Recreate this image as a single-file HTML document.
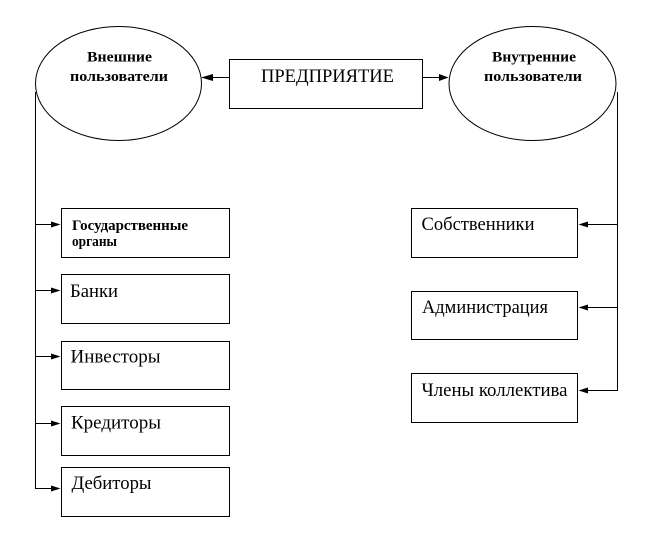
<!DOCTYPE html>
<html>
<head>
<meta charset="utf-8">
<style>
  html, body { margin: 0; padding: 0; background: #fff; }
  svg { display: block; }
  text { font-family: "Liberation Serif", "DejaVu Serif", serif; fill: #000; }
  .b { font-weight: bold; font-size: 15px; }
  .r { font-size: 19px; }
</style>
</head>
<body>
<svg width="653" height="560" viewBox="0 0 653 560" xmlns="http://www.w3.org/2000/svg">
  <rect x="0" y="0" width="653" height="560" fill="#fff"/>

  <!-- Ellipses -->
  <ellipse cx="118.5" cy="83.5" rx="83" ry="57" fill="none" stroke="#000" stroke-width="1"/>
  <ellipse cx="532.5" cy="83.5" rx="83.5" ry="57" fill="none" stroke="#000" stroke-width="1"/>

  <g shape-rendering="crispEdges" fill="none" stroke="#000" stroke-width="1">
    <!-- Central box -->
    <rect x="229.5" y="59.5" width="193" height="49"/>
    <!-- Left boxes -->
    <rect x="61.5" y="208.5" width="168" height="49"/>
    <rect x="61.5" y="274.5" width="168" height="49"/>
    <rect x="61.5" y="341.5" width="168" height="48"/>
    <rect x="61.5" y="406.5" width="168" height="49"/>
    <rect x="61.5" y="467.5" width="168" height="49"/>
    <!-- Right boxes -->
    <rect x="411.5" y="208.5" width="166" height="49"/>
    <rect x="411.5" y="291.5" width="166" height="48"/>
    <rect x="411.5" y="373.5" width="166" height="49"/>

    <!-- top connectors -->
    <line x1="212" y1="77.5" x2="229" y2="77.5"/>
    <line x1="423" y1="77.5" x2="440" y2="77.5"/>

    <!-- left trunk -->
    <line x1="35.5" y1="92" x2="35.5" y2="489"/>
    <line x1="35" y1="224.5" x2="52" y2="224.5"/>
    <line x1="35" y1="290.5" x2="52" y2="290.5"/>
    <line x1="35" y1="356.5" x2="52" y2="356.5"/>
    <line x1="35" y1="423.5" x2="52" y2="423.5"/>
    <line x1="35" y1="488.5" x2="52" y2="488.5"/>

    <!-- right trunk -->
    <line x1="617.5" y1="92" x2="617.5" y2="391"/>
    <line x1="587" y1="224.5" x2="618" y2="224.5"/>
    <line x1="587" y1="307.5" x2="618" y2="307.5"/>
    <line x1="587" y1="390.5" x2="618" y2="390.5"/>
  </g>

  <!-- Arrowheads -->
  <g fill="#000" stroke="none">
    <polygon points="201,77.5 213,74 213,81"/>
    <polygon points="448.5,77.5 439,74 439,81"/>

    <polygon points="60.5,224.5 51,221.5 51,227.5"/>
    <polygon points="60.5,290.5 51,287.5 51,293.5"/>
    <polygon points="60.5,356.5 51,353.5 51,359.5"/>
    <polygon points="60.5,423.5 51,420.5 51,426.5"/>
    <polygon points="60.5,488.5 51,485.5 51,491.5"/>

    <polygon points="578.5,224.5 588,221.5 588,227.5"/>
    <polygon points="578.5,307.5 588,304.5 588,310.5"/>
    <polygon points="578.5,390.5 588,387.5 588,393.5"/>
  </g>

  <!-- Texts -->
  <text class="b" x="87" y="61.5" textLength="65" lengthAdjust="spacingAndGlyphs">Внешние</text>
  <text class="b" x="70" y="81" textLength="98" lengthAdjust="spacingAndGlyphs">пользователи</text>

  <text class="b" x="492" y="61.5" textLength="84" lengthAdjust="spacingAndGlyphs">Внутренние</text>
  <text class="b" x="484" y="81" textLength="98" lengthAdjust="spacingAndGlyphs">пользователи</text>

  <text class="r" x="261" y="82" textLength="133" lengthAdjust="spacingAndGlyphs">ПРЕДПРИЯТИЕ</text>

  <text class="b" x="72" y="230" textLength="116" lengthAdjust="spacingAndGlyphs">Государственные</text>
  <text class="b" x="72" y="246" textLength="45" lengthAdjust="spacingAndGlyphs">органы</text>

  <text class="r" x="70" y="297" textLength="48" lengthAdjust="spacingAndGlyphs">Банки</text>
  <text class="r" x="70.5" y="362.5" textLength="90" lengthAdjust="spacingAndGlyphs">Инвесторы</text>
  <text class="r" x="71" y="428.5" textLength="90" lengthAdjust="spacingAndGlyphs">Кредиторы</text>
  <text class="r" x="71.5" y="489" textLength="80" lengthAdjust="spacingAndGlyphs">Дебиторы</text>

  <text class="r" x="421.5" y="230" textLength="113" lengthAdjust="spacingAndGlyphs">Собственники</text>
  <text class="r" x="422" y="313" textLength="126" lengthAdjust="spacingAndGlyphs">Администрация</text>
  <text class="r" x="421.5" y="396" textLength="146" lengthAdjust="spacingAndGlyphs">Члены коллектива</text>
</svg>
</body>
</html>
